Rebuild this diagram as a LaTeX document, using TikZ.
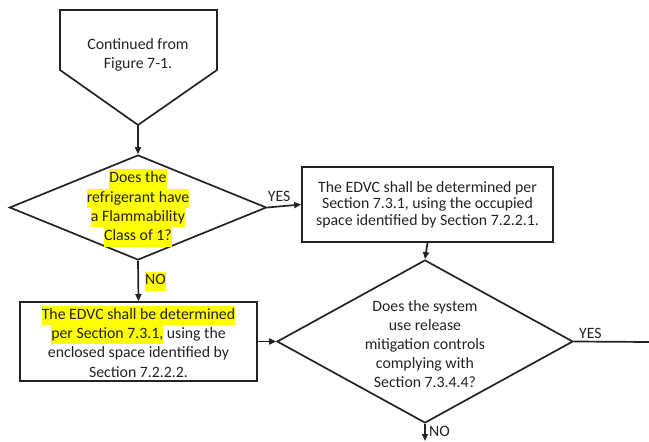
\documentclass[tikz,border=0pt]{standalone}
\usepackage{fontspec}
\setmainfont{Carlito}
\usetikzlibrary{shapes.geometric,arrows.meta}
\definecolor{hlyellow}{RGB}{255,255,0}
\definecolor{ink}{RGB}{35,35,35}
\newcommand{\hlt}[1]{{\setlength{\fboxsep}{0pt}\colorbox{hlyellow}{\strut #1}}}
\tikzset{
  base/.style={draw=ink, line width=1.7pt, text=ink, inner sep=0pt, align=center,
    font=\fontsize{15.8}{19}\selectfont},
  rectbox/.style={base, rectangle},
  decision/.style={base, diamond},
  flow/.style={draw=ink, line width=1.7pt, -{Triangle[length=7pt,width=6pt]}},
  lbl/.style={text=ink, inner sep=0pt, font=\fontsize{15.8}{19}\selectfont},
}
\begin{document}
\begin{tikzpicture}[x=1pt,y=-1pt]
\useasboundingbox (0,0) rectangle (649,442);
% off-page connector (pentagon)
\draw[draw=ink, line width=1.7pt, line join=miter] (60,10) -- (217,10) -- (217,70) -- (138,125) -- (60,70) -- cycle;
\coordinate (start) at (138,125);
\node[lbl, align=center] (starttxt) at (138,55) {Continued from\\Figure 7-1.};
% decision 1
\node[decision, minimum width=257pt, minimum height=105pt] (d1) at (138,207.5) {};
\node[lbl, align=center, font=\fontsize{15.8}{19.3}\selectfont] (d1txt) at (138,208)
  {\hlt{Does the}\\\hlt{refrigerant have}\\\hlt{a Flammability}\\\hlt{Class of 1?}};
% box 2
\node[rectbox, minimum width=251pt, minimum height=75pt, font=\fontsize{15.8}{16.5}\selectfont] (b2) at (427.5,204.5)
  {The EDVC shall be determined per\\Section 7.3.1, using the occupied\\space identified by Section 7.2.2.1.};
% box 3
\node[rectbox, minimum width=237pt, minimum height=79pt, font=\fontsize{15.8}{19.3}\selectfont] (b3) at (138.5,341.5)
  {\hlt{The EDVC shall be determined}\\\hlt{per Section 7.3.1,}\strut{} using the\\enclosed space identified by\\Section 7.2.2.2.};
% decision 2
\node[decision, minimum width=296pt, minimum height=163pt] (d2) at (425,341.5) {};
\node[lbl, align=center] (d2txt) at (425,344)
  {Does the system\\use release\\mitigation controls\\complying with\\Section 7.3.4.4?};
\coordinate (yesend) at (649,342);
\coordinate (noend) at (425,441);
% connectors
\draw[flow] (start) -- (d1.north);
\draw[flow] (d1.east) -- (b2.west) node[lbl, pos=0.35, above=4pt] (yes1) {YES};
\draw[flow] (d1.south) -- (b3.north) node[lbl, midway, right=6pt] (no1) {\hlt{NO}};
\draw[flow] (b2.south) -- (d2.north);
\draw[flow] (b3.east) -- (d2.west);
\draw[draw=ink, line width=1.7pt] (d2.east) -- (yesend) node[lbl, pos=0.22, above=2pt] (yes2) {YES};
\draw[flow] (d2.south) -- (noend);
\node[lbl, anchor=west] (no2) at (429,431) {NO};
\end{tikzpicture}
\end{document}
